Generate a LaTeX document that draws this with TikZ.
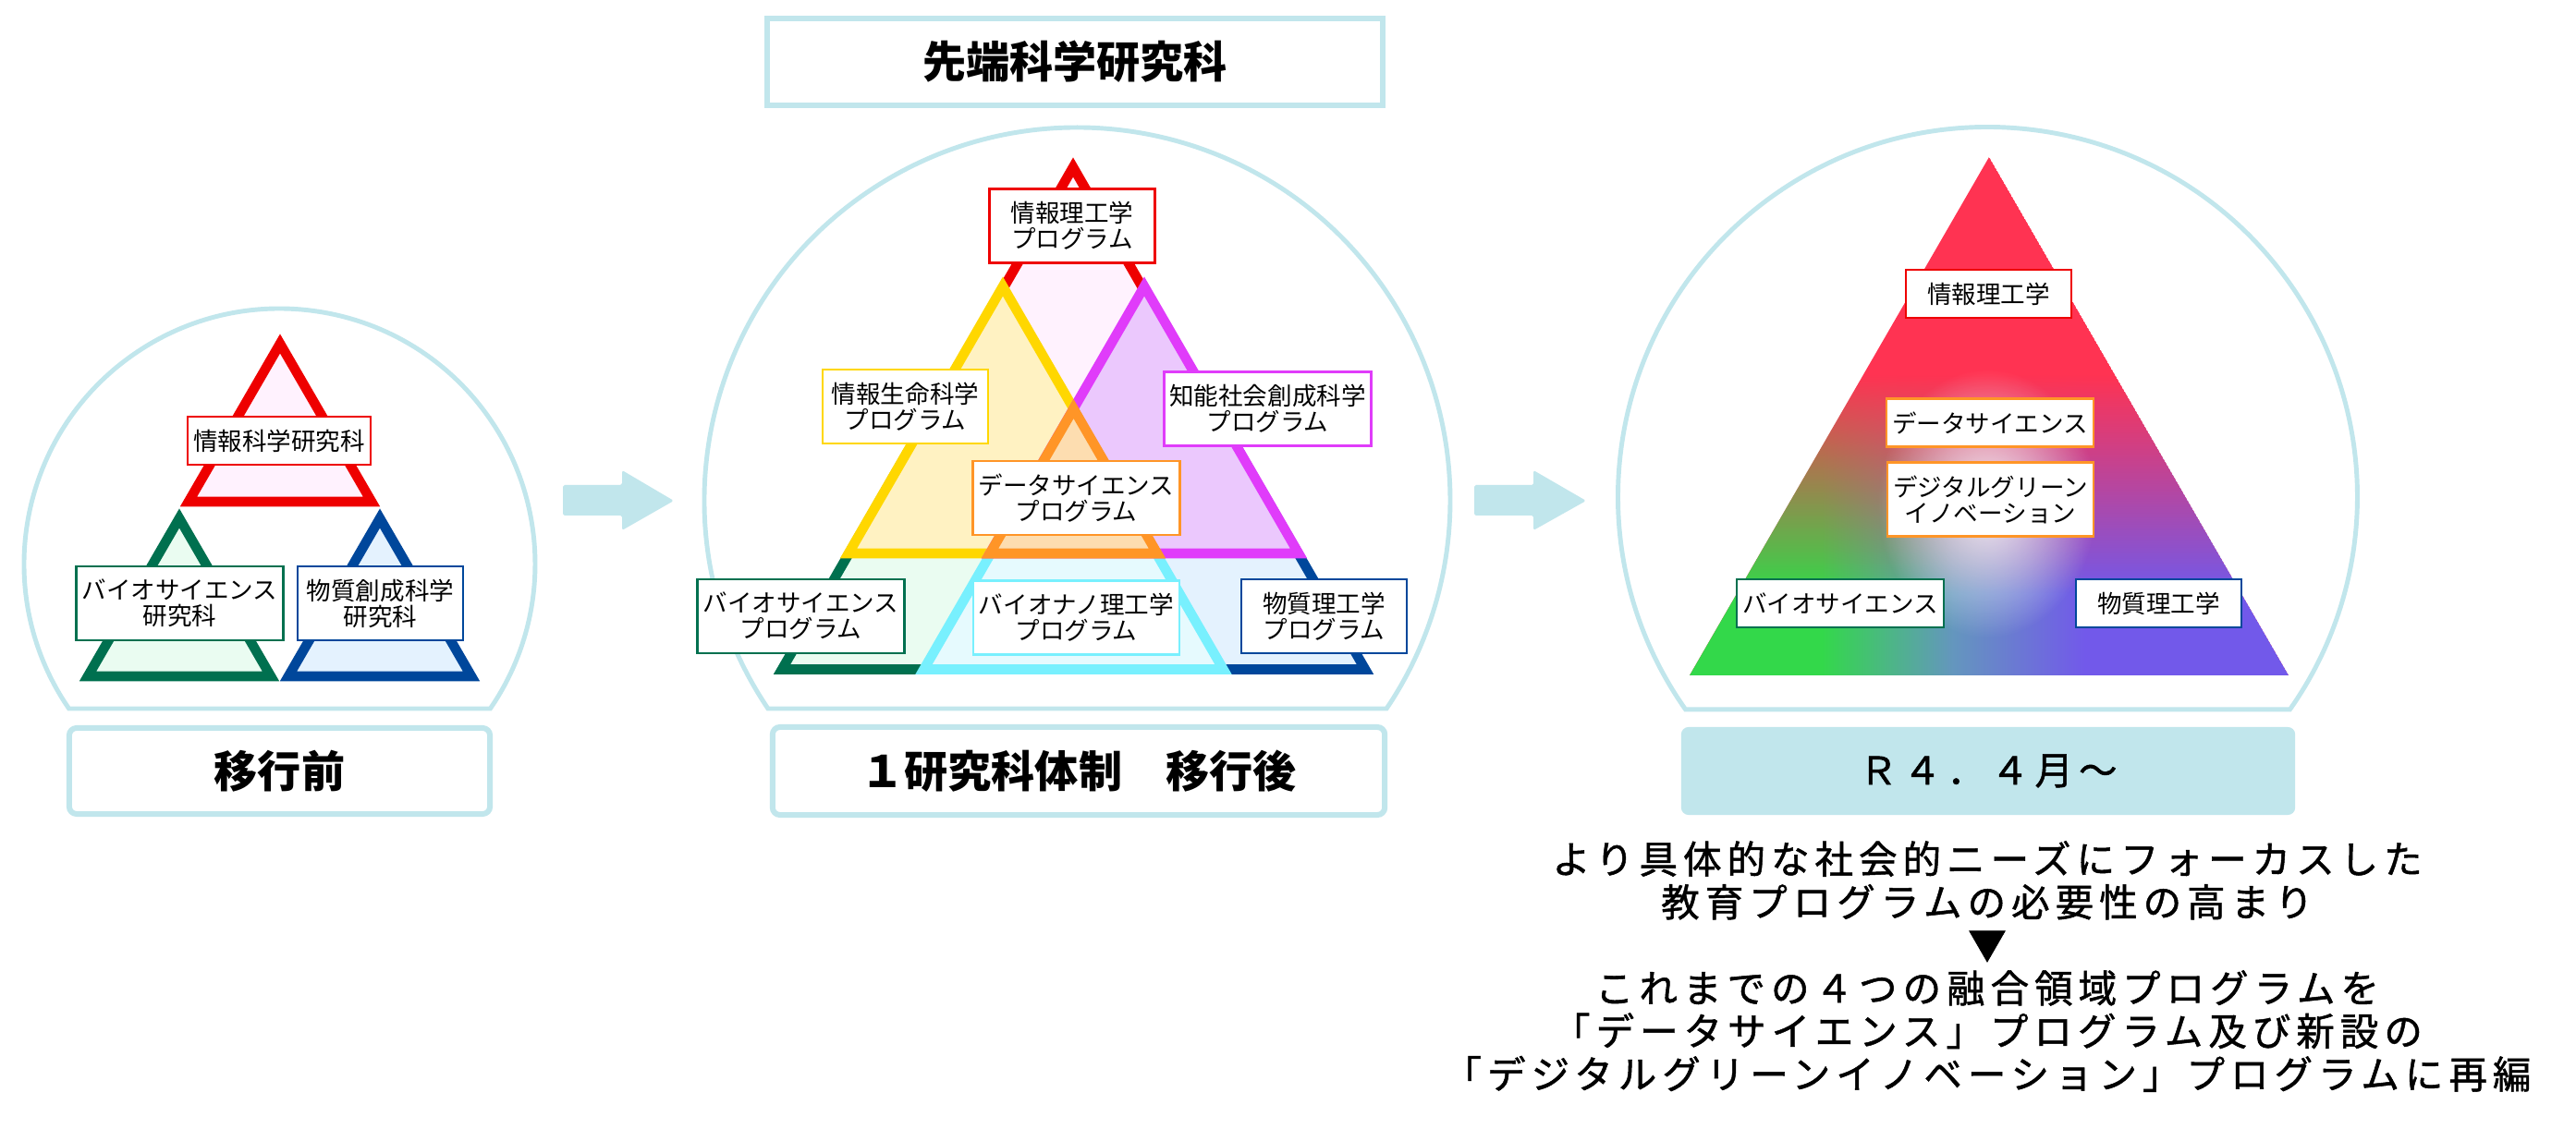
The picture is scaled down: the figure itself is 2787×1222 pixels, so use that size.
\documentclass[tikz,border=0pt]{standalone}
\usepackage{fontspec}
\newfontfamily\jp{Noto Sans CJK JP}
\newfontfamily\jpwide[LetterSpace=14.5, FakeBold=1.2]{Noto Sans CJK JP}
\usetikzlibrary{fadings}

\definecolor{dome}{HTML}{C1E6EC}
\definecolor{cred}{HTML}{EE0000}
\definecolor{cgreen}{HTML}{00704F}
\definecolor{cblue}{HTML}{00479B}
\definecolor{cyellow}{HTML}{FFD700}
\definecolor{cmagenta}{HTML}{E03CFA}
\definecolor{corange}{HTML}{FF9527}
\definecolor{ccyan}{HTML}{78F0FE}
\definecolor{pred}{HTML}{FFF2FE}
\definecolor{pgreen}{HTML}{EAFCF1}
\definecolor{pblue}{HTML}{E4F2FE}
\definecolor{pyellow}{HTML}{FFF2C2}
\definecolor{pmagenta}{HTML}{EBC8FD}
\definecolor{porange}{HTML}{FDDDB0}
\definecolor{pcyan}{HTML}{E6FAFE}
\definecolor{gred}{HTML}{FF3352}
\definecolor{ggreen}{HTML}{33D84A}
\definecolor{gpurple}{HTML}{7259EA}
\definecolor{gmid}{HTML}{6496BE}

\pgfdeclarehorizontalshading{greenpurple}{100bp}{color(0bp)=(ggreen); color(36bp)=(ggreen); color(47bp)=(gmid); color(58bp)=(gpurple); color(100bp)=(gpurple)}
\pgfdeclareverticalshading{lowhalf}{100bp}{color(0bp)=(white); color(33bp)=(white); color(54bp)=(black); color(100bp)=(black)}
\pgfdeclarefading{lowfade}{\pgfuseshading{lowhalf}}
\tikzfading[name=glowfade, inner color=transparent!0, outer color=transparent!100]

\begin{document}
\begin{tikzpicture}[
        x=0.01cm, y=-0.01cm,
        dm/.style={draw=dome, line width=1.4pt, fill=white},
        tri/.style={line width=3pt},
        lb/.style={draw, fill=white, line width=0.7pt, align=center, inner xsep=0.06cm, inner ysep=0pt,
            minimum width=1.79cm, minimum height=0.52cm, font=\jp\fontsize{7.55}{7.95}\selectfont},
        lb2/.style={lb, minimum height=0.8cm},
        hd/.style={draw=dome, line width=1.7pt, fill=white, font=\jp\bfseries\fontsize{13.4}{14}\selectfont},
        fl/.style={fill=dome, rounded corners=0.5pt}
    ]

    \path[fill=white, use as bounding box] (0,0) rectangle (2787,1222);

    % before
    \draw[dm] (302.5,610.5) ++(145.53:276.5) arc[start angle=145.53, end angle=394.47, radius=276.5] -- cycle;
    \draw[tri, draw=cred, fill=pred] (303,372) -- (204,543) -- (402,543) -- cycle;
    \draw[tri, draw=cgreen, fill=pgreen] (194,561) -- (95,732) -- (293,732) -- cycle;
    \draw[tri, draw=cblue, fill=pblue] (411,561) -- (312,732) -- (510,732) -- cycle;
    \node[lb, draw=cred] (infosci) at (302,477) {情報科学研究科};
    \node[lb2, draw=cgreen] (biosci) at (194.5,653) {バイオサイエンス\\研究科};
    \node[lb2, draw=cblue] (matsci) at (411.5,653) {物質創成科学\\研究科};
    \node[hd, rounded corners=0.08cm, minimum width=4.55cm, minimum height=0.93cm] (before) at (302.5,834.5) {移行前};

    \fill[fl] (609,525) -- (673,525) -- (673,509) -- (729,542) -- (673,574) -- (673,558) -- (609,558) -- cycle;

    % after
    \node[hd, minimum width=6.66cm, minimum height=0.94cm] (gsst) at (1163,67) {先端科学研究科};
    \draw[dm] (1165.5,541.5) ++(146.02:403.5) arc[start angle=146.02, end angle=393.98, radius=403.5] -- cycle;
    \draw[tri, draw=cred, fill=pred] (1161,181) -- (920,599) -- (1402,599) -- cycle;
    \draw[tri, draw=cgreen, fill=pgreen] (1013,435.5) -- (846,724.5) -- (1180,724.5) -- cycle;
    \draw[tri, draw=cblue, fill=pblue] (1310,435.5) -- (1143,724.5) -- (1477,724.5) -- cycle;
    \draw[tri, draw=ccyan, fill=pcyan] (1161.5,444) -- (999.5,724.5) -- (1323.5,724.5) -- cycle;
    \draw[tri, draw=cyellow, fill=pyellow] (1085,310) -- (918,599) -- (1252,599) -- cycle;
    \draw[tri, draw=cmagenta, fill=pmagenta] (1238,310) -- (1071,599) -- (1405,599) -- cycle;
    \draw[tri, draw=corange, fill=porange] (1161.5,442.5) -- (1071,599) -- (1252,599) -- cycle;
    \node[lb2, draw=cred] (infoeng) at (1160,244.5) {情報理工学\\プログラム};
    \node[lb2, draw=cyellow] (infolife) at (979.5,440) {情報生命科学\\プログラム};
    \node[lb2, draw=cmagenta] (intsoc) at (1371.5,442.5) {知能社会創成科学\\プログラム};
    \node[lb2, draw=corange] (datasci) at (1164.5,539) {データサイエンス\\プログラム};
    \node[lb2, draw=cgreen] (bioprog) at (866.5,667) {バイオサイエンス\\プログラム};
    \node[lb2, draw=ccyan] (bionano) at (1164.5,668.5) {バイオナノ理工学\\プログラム};
    \node[lb2, draw=cblue] (matprog) at (1432.5,667) {物質理工学\\プログラム};
    \node[hd, rounded corners=0.08cm, minimum width=6.62cm, minimum height=0.95cm] (after) at (1167,834.5) {１研究科体制　移行後};

    \fill[fl] (1595,525) -- (1659,525) -- (1659,509) -- (1716,542) -- (1659,574) -- (1659,558) -- (1595,558) -- cycle;

    % R4
    \draw[dm] (2150.5,537.5) ++(144.83:400) arc[start angle=144.83, end angle=395.17, radius=400] -- cycle;
    \begin{scope}
        \clip (2152,170) -- (1828,731) -- (2476,731) -- cycle;
        \fill[gred] (2152,170) -- (1828,731) -- (2476,731) -- cycle;
        \shade[shading=greenpurple, path fading=lowfade] (2152,170) -- (1828,731) -- (2476,731) -- cycle;
        \fill[white, path fading=glowfade, fill opacity=0.9] (2150,545) ellipse [x radius=118, y radius=145];
    \end{scope}
    \node[lb, draw=cred] (rinfo) at (2151.5,318) {情報理工学};
    \node[lb, draw=corange] (rdata) at (2153,457.5) {データサイエンス};
    \node[lb2, draw=corange] (rdgi) at (2153.5,540.5) {デジタルグリーン\\イノベーション};
    \node[lb, draw=cgreen] (rbio) at (1991,653) {バイオサイエンス};
    \node[lb, draw=cblue] (rmat) at (2335.5,653) {物質理工学};
    \node[fill=dome, rounded corners=0.08cm, minimum width=6.64cm, minimum height=0.95cm,
        font=\jpwide\fontsize{11.8}{12}\selectfont] (r4) at (2151,834.5) {Ｒ４．４月～};
    \node[align=center, font=\jpwide\fontsize{11.8}{13.24}\selectfont] (note) at (2150,1046)
        {より具体的な社会的ニーズにフォーカスした\\教育プログラムの必要性の高まり\\▼\\これまでの４つの融合領域プログラムを\\「データサイエンス」プログラム及び新設の\\「デジタルグリーンイノベーション」プログラムに再編};

\end{tikzpicture}
\end{document}
